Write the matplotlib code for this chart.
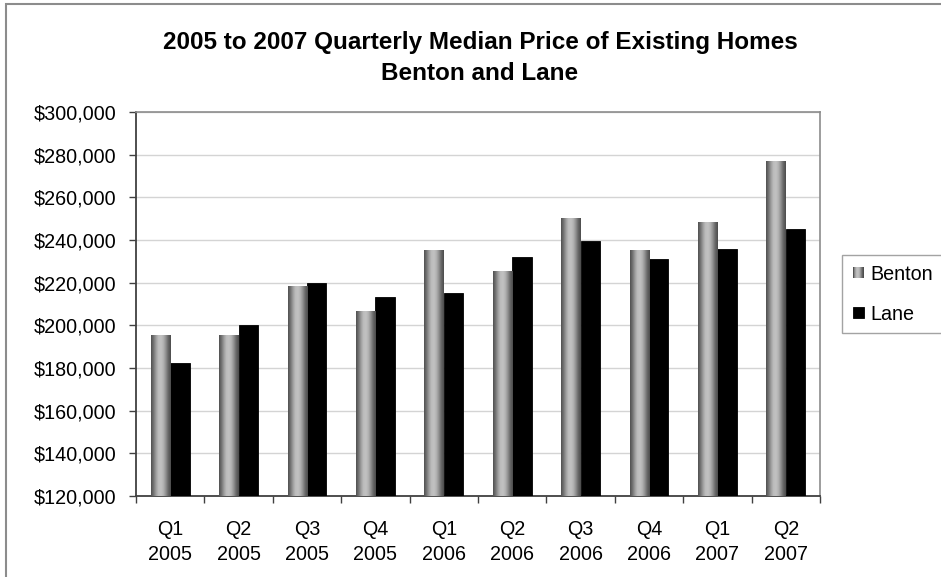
import matplotlib.pyplot as plt
import numpy as np
from matplotlib.patches import Rectangle
from matplotlib.legend_handler import HandlerBase
from matplotlib.ticker import FuncFormatter

plt.rcParams['font.family'] = ['Liberation Sans', 'DejaVu Sans']

quarters = ['Q1', 'Q2', 'Q3', 'Q4', 'Q1', 'Q2', 'Q3', 'Q4', 'Q1', 'Q2']
years = ['2005', '2005', '2005', '2005', '2006', '2006', '2006', '2006', '2007', '2007']
benton = [195000, 195000, 218400, 206300, 235300, 225000, 250300, 235300, 248400, 276600]
lane = [182300, 200000, 219700, 213300, 215000, 231900, 239400, 231000, 235600, 245000]

# grey levels across a bar, dark edge -> bright middle -> dark edge
shade = np.array([0.32, 0.45, 0.62, 0.74, 0.76, 0.70, 0.56, 0.40, 0.30])
xs = np.linspace(0, 1, 64)
strip = np.interp(xs, np.linspace(0, 1, len(shade)), shade)
grad = np.tile(strip, (2, 1))


class GradientHandler(HandlerBase):
    def create_artists(self, legend, orig, xdescent, ydescent, width, height, fontsize, trans):
        n = 12
        side = height * 0.8
        x0 = xdescent + width - side
        arts = []
        for k in range(n):
            g = np.interp(k / (n - 1), np.linspace(0, 1, len(shade)), shade)
            r = Rectangle((x0 + k * side / n, -ydescent + (height - side) / 2), side / n + 0.2, side,
                          facecolor=(g, g, g), edgecolor='none', transform=trans)
            arts.append(r)
        return arts


class SquareHandler(HandlerBase):
    def create_artists(self, legend, orig, xdescent, ydescent, width, height, fontsize, trans):
        side = height * 0.8
        r = Rectangle((xdescent + width - side, -ydescent + (height - side) / 2), side, side,
                      facecolor='black', edgecolor='black', lw=0.6, transform=trans)
        return [r]


fig = plt.figure(figsize=(9.41, 5.77), dpi=100)
ax = fig.add_axes([136 / 941, 81 / 577, 684 / 941, 384 / 577])

x = np.arange(len(quarters))
w = 0.285
ymin = 120000
b1 = ax.bar(x - w / 2, np.array(benton) - ymin, w, bottom=ymin, color='none', zorder=3)
b2 = ax.bar(x + w / 2, np.array(lane) - ymin, w, bottom=ymin, color='black', edgecolor='black',
            lw=0.6, zorder=3)
for rect in b1:
    x0 = rect.get_x()
    ax.imshow(grad, cmap='gray', vmin=0, vmax=1, aspect='auto', interpolation='bilinear',
              extent=[x0, x0 + rect.get_width(), ymin, ymin + rect.get_height()], zorder=3)

ax.set_xlim(-0.5, len(quarters) - 0.5)
ax.set_ylim(120000, 300000)
ax.set_yticks(np.arange(120000, 300001, 20000))
ax.yaxis.set_major_formatter(FuncFormatter(lambda v, p: '${:,.0f}'.format(v)))
ax.grid(axis='y', color='#d4d4d4', lw=1, zorder=0)
ax.set_axisbelow(True)

ax.set_xticks(np.arange(-0.5, len(quarters), 1))
ax.set_xticklabels([])
ax.set_xticks(x, minor=True)
ax.set_xticklabels([q + '\n' + y for q, y in zip(quarters, years)], minor=True,
                   fontsize=14.2, linespacing=1.45)
ax.tick_params(axis='x', which='major', direction='out', length=5, width=1, color='#404040')
ax.tick_params(axis='x', which='minor', length=0, pad=17)
ax.tick_params(axis='y', direction='out', length=5, width=1, color='#404040',
               labelsize=14.2, pad=9)

for s in ['left', 'bottom']:
    ax.spines[s].set_color('#404040')
    ax.spines[s].set_linewidth(1.3)
for s in ['top', 'right']:
    ax.spines[s].set_color('#8c8c8c')
    ax.spines[s].set_linewidth(1.2)

leg = fig.legend([b1, b2], ['Benton', 'Lane'],
                 handler_map={b1: GradientHandler(), b2: SquareHandler()},
                 loc='upper left', bbox_to_anchor=(842 / 941, 1 - 255 / 577),
                 fontsize=14.2, frameon=True, fancybox=False, edgecolor='#8c8c8c',
                 handlelength=0.6, handletextpad=0.35, labelspacing=1.05,
                 borderpad=0.5, borderaxespad=0)
leg.get_frame().set_linewidth(1.0)

fig.text(480 / 941, 1 - 43 / 577, '2005 to 2007 Quarterly Median Price of Existing Homes',
         ha='center', va='center', fontsize=17.5, fontweight='bold')
fig.text(480 / 941, 1 - 73 / 577, 'Benton and Lane',
         ha='center', va='center', fontsize=17.5, fontweight='bold')

# outer chart frame (runs off the right and bottom edges)
fig.patches.append(Rectangle((6 / 941, -0.1), 1.2, 1 - 4 / 577 + 0.1, transform=fig.transFigure,
                             fill=False, edgecolor='#8c8c8c', lw=1.5))

fig.savefig('out.png', dpi=100)
